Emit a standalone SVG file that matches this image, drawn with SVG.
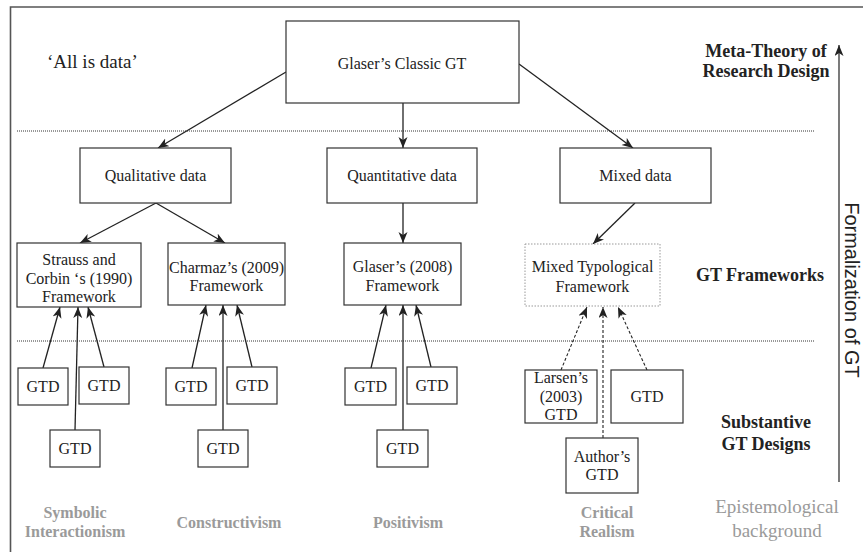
<svg xmlns="http://www.w3.org/2000/svg" width="863" height="552" viewBox="0 0 863 552">
<defs>
<style>
.box{fill:#fff;stroke:#333;stroke-width:1.2}
.dbox{fill:#fff;stroke:#999;stroke-width:1;stroke-dasharray:1.5,1.5}
.t{font-family:"Liberation Serif","Times New Roman",serif;font-size:16px;fill:#222;text-anchor:middle}
.lvl{font-family:"Liberation Serif","Times New Roman",serif;font-size:18px;font-weight:bold;fill:#222;text-anchor:middle}
.epi{font-family:"Liberation Serif","Times New Roman",serif;font-size:16px;font-weight:bold;fill:#9a9a9a;text-anchor:middle}
.conn{stroke:#222;stroke-width:1.3;fill:none;marker-end:url(#ah)}
.dash{stroke:#222;stroke-width:1.1;fill:none;stroke-dasharray:3,2;marker-end:url(#ah)}
.sep{stroke:#333;stroke-width:1;stroke-dasharray:1,1;fill:none}
</style>
<marker id="ah" markerWidth="12" markerHeight="10" refX="11" refY="4.5" orient="auto" markerUnits="userSpaceOnUse">
<path d="M0,0 L11,4.5 L0,9 L3,4.5 z" fill="#222"/>
</marker>
</defs>
<rect width="863" height="552" fill="#fff"/>
<g id="frame">
<path d="M10.5,552 L10.5,7 L863,7" stroke="#555" stroke-width="1.6" fill="none"/>
<line class="sep" x1="17" y1="131" x2="815" y2="131"/>
<line class="sep" x1="17" y1="341" x2="815" y2="341"/>
</g>
<g id="labels">
<text x="47" y="68" font-family="Liberation Serif, Times New Roman, serif" font-size="19" fill="#222">‘All is data’</text>
<text class="lvl" x="766" y="57">Meta-Theory of</text>
<text class="lvl" x="766" y="77">Research Design</text>
<text class="lvl" x="760" y="281">GT Frameworks</text>
<text class="lvl" x="766" y="428">Substantive</text>
<text class="lvl" x="766" y="450">GT Designs</text>
<text class="epi" x="75" y="518">Symbolic</text>
<text class="epi" x="75" y="537">Interactionism</text>
<text class="epi" x="229" y="528">Constructivism</text>
<text class="epi" x="408" y="528">Positivism</text>
<text class="epi" x="607" y="518">Critical</text>
<text class="epi" x="607" y="537">Realism</text>
<text x="777" y="513" font-family="Liberation Serif, Times New Roman, serif" font-size="19" fill="#9a9a9a" text-anchor="middle">Epistemological</text>
<text x="777" y="537" font-family="Liberation Serif, Times New Roman, serif" font-size="19" fill="#9a9a9a" text-anchor="middle">background</text>
<line x1="839" y1="482" x2="839" y2="45" stroke="#333" stroke-width="1.3" marker-end="url(#ah)"/>
<text transform="translate(845,290) rotate(90)" font-family="Liberation Sans, Arial, sans-serif" font-size="20" fill="#222" text-anchor="middle">Formalization of GT</text>
</g>
<g id="connectors">
<line class="conn" x1="286" y1="72" x2="158" y2="148"/>
<line class="conn" x1="403" y1="103" x2="403" y2="148"/>
<line class="conn" x1="519" y1="64" x2="633" y2="148"/>
<line class="conn" x1="156" y1="203" x2="80" y2="243"/>
<line class="conn" x1="156" y1="203" x2="225" y2="243"/>
<line class="conn" x1="403" y1="203" x2="403" y2="243"/>
<line class="conn" x1="635" y1="203" x2="593" y2="244"/>
<line class="conn" x1="43" y1="368" x2="60" y2="307"/>
<line class="conn" x1="75" y1="430" x2="78" y2="307"/>
<line class="conn" x1="104" y1="367" x2="88" y2="307"/>
<line class="conn" x1="192" y1="368" x2="206" y2="305"/>
<line class="conn" x1="223" y1="430" x2="223" y2="305"/>
<line class="conn" x1="252" y1="367" x2="237" y2="305"/>
<line class="conn" x1="371" y1="368" x2="386" y2="305"/>
<line class="conn" x1="403" y1="430" x2="403" y2="305"/>
<line class="conn" x1="431" y1="367" x2="416" y2="305"/>
<line class="dash" x1="561" y1="370" x2="587" y2="307"/>
<line class="dash" x1="603" y1="438" x2="603" y2="307"/>
<line class="dash" x1="647" y1="370" x2="618" y2="307"/>
</g>
<g id="glaser-classic"><rect class="box" x="286" y="21" width="233" height="82"/><text class="t" x="402" y="69">Glaser’s Classic GT</text></g>
<g id="qualitative"><rect class="box" x="80" y="148" width="151" height="55"/><text class="t" x="155.5" y="181">Qualitative data</text></g>
<g id="quantitative"><rect class="box" x="327" y="148" width="150" height="55"/><text class="t" x="402" y="181">Quantitative data</text></g>
<g id="mixed"><rect class="box" x="560" y="148" width="151" height="55"/><text class="t" x="635.5" y="181">Mixed data</text></g>
<g id="strauss"><rect class="box" x="17" y="243" width="124" height="64"/><text class="t" x="79" y="265">Strauss and</text><text class="t" x="79" y="284">Corbin ‘s (1990)</text><text class="t" x="79" y="302">Framework</text></g>
<g id="charmaz"><rect class="box" x="168" y="243" width="117" height="62"/><text class="t" x="226.5" y="273">Charmaz’s (2009)</text><text class="t" x="226.5" y="291">Framework</text></g>
<g id="glaser2008"><rect class="box" x="344" y="243" width="117" height="62"/><text class="t" x="402.5" y="272">Glaser’s (2008)</text><text class="t" x="402.5" y="291">Framework</text></g>
<g id="mixed-typological"><rect class="dbox" x="525" y="244" width="135" height="62"/><text class="t" x="592.5" y="272">Mixed Typological</text><text class="t" x="592.5" y="292">Framework</text></g>
<g id="gtd1"><rect class="box" x="18" y="368" width="50" height="37"/><text class="t" x="43" y="392">GTD</text></g>
<g id="gtd2"><rect class="box" x="79" y="367" width="50" height="37"/><text class="t" x="104" y="391">GTD</text></g>
<g id="gtd3"><rect class="box" x="50" y="430" width="50" height="37"/><text class="t" x="75" y="454">GTD</text></g>
<g id="gtd4"><rect class="box" x="166" y="368" width="50" height="37"/><text class="t" x="191" y="392">GTD</text></g>
<g id="gtd5"><rect class="box" x="227" y="367" width="50" height="37"/><text class="t" x="252" y="391">GTD</text></g>
<g id="gtd6"><rect class="box" x="198" y="430" width="50" height="37"/><text class="t" x="223" y="454">GTD</text></g>
<g id="gtd7"><rect class="box" x="345" y="368" width="51" height="37"/><text class="t" x="370.5" y="392">GTD</text></g>
<g id="gtd8"><rect class="box" x="407" y="367" width="50" height="37"/><text class="t" x="432" y="391">GTD</text></g>
<g id="gtd9"><rect class="box" x="377" y="430" width="51" height="37"/><text class="t" x="402.5" y="454">GTD</text></g>
<g id="larsen"><rect class="box" x="525" y="370" width="72" height="53"/><text class="t" x="561" y="383">Larsen’s</text><text class="t" x="561" y="402">(2003)</text><text class="t" x="561" y="420">GTD</text></g>
<g id="gtd10"><rect class="box" x="611" y="370" width="72" height="53"/><text class="t" x="647" y="402">GTD</text></g>
<g id="author"><rect class="box" x="566" y="438" width="72" height="55"/><text class="t" x="602" y="462">Author’s</text><text class="t" x="602" y="480">GTD</text></g>
</svg>
